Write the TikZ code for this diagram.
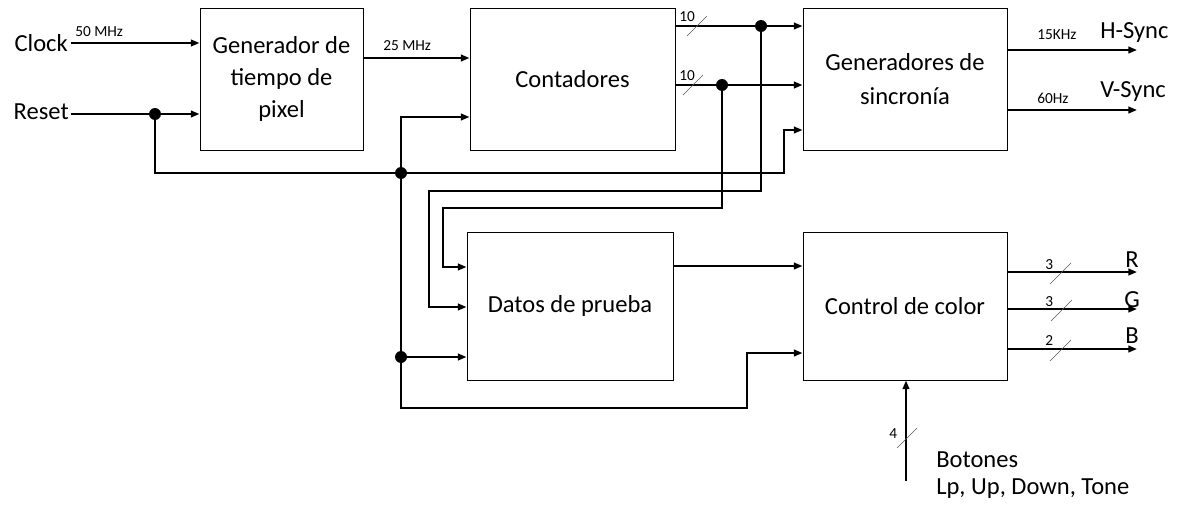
\documentclass[tikz,border=0pt]{standalone}
\usepackage{fontspec}
\setmainfont{Carlito}
\usetikzlibrary{arrows.meta}
\begin{document}
\begin{tikzpicture}[x=0.75pt,y=-0.75pt,
  blk/.style={draw,line width=0.75pt,minimum width=#1,minimum height=106.5pt,align=center,inner sep=0pt,font=\fontsize{18.4}{21.75}\selectfont},
  blk/.default=153pt,
  wire/.style={line width=1.5pt},
  arr/.style={wire,-{Triangle[length=6.5pt,width=5pt]}},
  dot/.style={circle,fill,inner sep=0pt,minimum size=9pt},
  lbl/.style={font=\fontsize{18.4}{21.75}\selectfont,inner sep=0pt},
  small/.style={font=\fontsize{11.5}{13}\selectfont,inner sep=0pt},
  slash/.style={line width=0.5pt,gray!70!black}]
\useasboundingbox (0,0) rectangle (1183,514);
% blocks
\node[blk=122.25pt] (gen) at (281.5,79) {Generador de\\[2.5pt]tiempo de\\[2.5pt]pixel};
\node[blk=153.75pt] (cnt) at (572.5,79) {Contadores};
\node[blk=153pt] (sync) at (905,79) {Generadores de\\[3.5pt]sincronía};
\node[blk=154.5pt,minimum height=111pt] (dat) at (570,306) {Datos de prueba};
\node[blk=153pt,minimum height=111pt] (col) at (905,306) {Control de color};
% inputs
\node[lbl,anchor=east] (clk) at (68,43) {Clock};
\node[lbl,anchor=east] (rst) at (69,112) {Reset};
\coordinate (clkin) at (71,43);
\coordinate (rstin) at (71,114);
\draw[arr] (clkin) -- (gen.west |- clkin);
\node[small,anchor=south west] (f50) at (75,37) {50 MHz};
\node[dot] (jr) at (155,114) {};
\draw[wire] (rstin) -- (jr);
\draw[arr] (jr) -- (gen.west |- jr);
% gen -> cnt
\coordinate (g25) at (363,58);
\draw[arr] (g25) -- (cnt.west |- g25);
\node[small,anchor=south west] (f25) at (383,51) {25 MHz};
% reset bus
\node[dot] (jb) at (401,173) {};
\node[dot] (jd) at (401,357) {};
\coordinate (rs1) at (784,173);
\coordinate (rs2) at (784,130);
\draw[wire] (jr) |- (jb);
\draw[arr] (jb) -- (rs1) -- (rs2) -- (sync.west |- rs2);
\coordinate (rc) at (401,117);
\draw[arr] (jb) -- (rc) -- (cnt.west |- rc);
\draw[wire] (jb) -- (jd);
\draw[arr] (jd) -- (dat.west |- jd);
\coordinate (rb1) at (401,408);
\coordinate (rb2) at (747,408);
\coordinate (rb3) at (747,353);
\draw[arr] (jd) -- (rb1) -- (rb2) -- (rb3) -- (col.west |- rb3);
% counter buses
\coordinate (ch) at (675,26);
\coordinate (cv) at (675,85);
\node[dot] (jh) at (761,26) {};
\node[dot] (jv) at (722,85) {};
\draw[wire] (ch) -- (jh);
\draw[arr] (jh) -- (sync.west |- jh);
\draw[wire] (cv) -- (jv);
\draw[arr] (jv) -- (sync.west |- jv);
\draw[slash] (687,36) -- (707,16);
\draw[slash] (683,95) -- (703,75);
\node[small,anchor=south west] (n10a) at (679,22) {10};
\node[small,anchor=south west] (n10b) at (679,81) {10};
% to datos
\coordinate (v1) at (722,208);
\coordinate (v2) at (443,208);
\coordinate (v3) at (443,267);
\draw[arr] (jv) -- (v1) -- (v2) -- (v3) -- (dat.west |- v3);
\coordinate (h1) at (761,191);
\coordinate (h2) at (429,191);
\coordinate (h3) at (429,307);
\draw[arr] (jh) -- (h1) -- (h2) -- (h3) -- (dat.west |- h3);
% datos -> color
\coordinate (dc) at (673,266);
\draw[arr] (dc) -- (col.west |- dc);
% sync outputs
\coordinate (hs) at (1137,50);
\coordinate (vs) at (1137,110);
\draw[arr] (sync.east |- hs) -- (hs);
\draw[arr] (sync.east |- vs) -- (vs);
\node[small,anchor=south west] (f15) at (1037,40) {15KHz};
\node[small,anchor=south west] (f60) at (1037,104) {60Hz};
\node[lbl,anchor=west] (hsl) at (1100,33) {H-Sync};
\node[lbl,anchor=west] (vsl) at (1100,92) {V-Sync};
% RGB
\coordinate (ro) at (1137,272);
\coordinate (go) at (1137,309);
\coordinate (bo) at (1137,349);
\draw[arr] (col.east |- ro) -- (ro);
\draw[arr] (col.east |- go) -- (go);
\draw[arr] (col.east |- bo) -- (bo);
\draw[slash] (1050,284) -- (1071,263);
\draw[slash] (1051,321) -- (1072,300);
\draw[slash] (1050,361) -- (1071,340);
\node[small,anchor=south west] (n3a) at (1045,270) {3};
\node[small,anchor=south west] (n3b) at (1045,307) {3};
\node[small,anchor=south west] (n2) at (1045,346) {2};
\node[lbl,anchor=south west] (rl) at (1125,268) {R};
\node[lbl,anchor=south west] (gl) at (1124,308) {G};
\node[lbl,anchor=south west] (bl) at (1125,344) {B};
% botones
\coordinate (bt) at (906,481);
\draw[arr] (bt) -- (col.south -| bt);
\draw[slash] (897,448) -- (917,428);
\node[small,anchor=south west] (n4) at (889,439) {4};
\node[lbl,anchor=west] (bot) at (936,460) {Botones};
\node[lbl,anchor=west] (btn) at (936,489) {Lp, Up, Down, Tone};
\end{tikzpicture}
\end{document}
